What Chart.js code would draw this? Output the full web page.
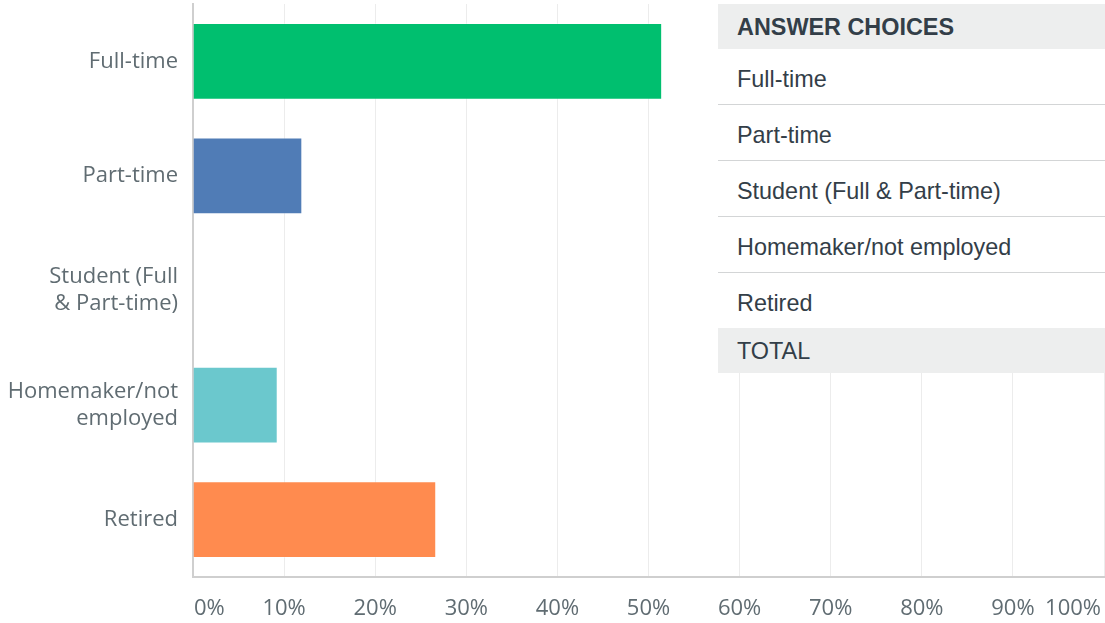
<!DOCTYPE html>
<html>
<head>
<meta charset="utf-8">
<script src="https://cdn.jsdelivr.net/npm/chart.js@4/dist/chart.umd.min.js"></script>
<style>
  body { margin: 0; background: #fff; }
  #wrap { position: relative; width: 1105px; height: 623px; overflow: hidden; }
  #answers {
    position: absolute; left: 718px; top: 4px; width: 387px;
    background: #fff; font-family: 'Liberation Sans', Arial, sans-serif;
    font-size: 23.4px; color: #333e48;
  }
  #answers div { box-sizing: border-box; padding-left: 19px; padding-top: 5px; display: flex; align-items: center; }
  #answers .head { height: 45px; background: #edeeee; padding-top: 2px; }
  #answers .bold { font-weight: bold; }
  #answers .row { height: 56px; border-bottom: 1px solid #d3d5d6; }
  #answers .row.last { height: 55px; border-bottom: none; }
</style>
</head>
<body>
<div id="wrap">
  <canvas id="chart" width="1105" height="623"></canvas>
  <div id="answers"></div>
</div>
<script>
const categories = [['Full-time'], ['Part-time'], ['Student (Full', '& Part-time)'], ['Homemaker/not', 'employed'], ['Retired']];
const percentages = [51.5, 12.0, 0, 9.3, 26.7];
const barColors = ['#00bf6f', '#507cb6', '#f9be00', '#6bc8cd', '#ff8b4f'];
const tableRows = ['Full-time', 'Part-time', 'Student (Full & Part-time)', 'Homemaker/not employed', 'Retired'];
const tickFont = "22px 'Open Sans', sans-serif";
const labelColor = '#606c72';

// answer choices table laid over the right side
const table = document.getElementById('answers');
table.innerHTML = '<div class="head bold">ANSWER CHOICES</div>' +
    tableRows.map((r, i) => `<div class="row${i === tableRows.length - 1 ? ' last' : ''}">${r}</div>`).join('') +
    '<div class="head">TOTAL</div>';

// draw x tick labels ourselves so the end labels stay inside the canvas
const xLabels = {
    id: 'xLabels',
    afterDraw(chart) {
        const ctx = chart.ctx;
        const x = chart.scales.x;
        ctx.save();
        ctx.font = tickFont;
        ctx.fillStyle = labelColor;
        ctx.textBaseline = 'middle';
        x.ticks.forEach((t, i) => {
            let px = x.getPixelForValue(t.value);
            ctx.textAlign = 'center';
            if (i === 0) { ctx.textAlign = 'left'; px += 1; }
            if (i === x.ticks.length - 1) { ctx.textAlign = 'right'; px -= 3; }
            ctx.fillText(t.value + '%', px, 609);
        });
        ctx.restore();
    }
};

new Chart(document.getElementById('chart'), {
    type: 'bar',
    data: {
        labels: categories,
        datasets: [{
            data: percentages,
            backgroundColor: barColors,
            borderColor: 'rgba(255,255,255,0.35)',
            borderWidth: 1,
            barPercentage: 0.67,
            categoryPercentage: 1
        }]
    },
    options: {
        indexAxis: 'y',
        responsive: false,
        animation: false,
        layout: { padding: { top: 4, right: 1, left: 0, bottom: 0 } },
        plugins: { legend: { display: false }, tooltip: { enabled: false } },
        scales: {
            x: {
                min: 0, max: 100,
                ticks: { stepSize: 10, display: false },
                grid: { color: '#ececec', lineWidth: 1, drawTicks: false },
                border: { display: true, color: '#cfcfcf', width: 2 },
                afterFit: (s) => { s.height = 46; s.paddingLeft = 0; s.paddingRight = 0; }
            },
            y: {
                ticks: {
                    color: labelColor,
                    padding: 15,
                    font: { family: "'Open Sans', sans-serif", size: 22, lineHeight: 1.23 }
                },
                grid: { display: false, drawTicks: false },
                border: { display: true, color: '#cfcfcf', width: 2 },
                afterFit: (s) => { s.width = 193; s.paddingTop = 0; s.paddingBottom = 0; }
            }
        }
    },
    plugins: [xLabels]
});
</script>
</body>
</html>
